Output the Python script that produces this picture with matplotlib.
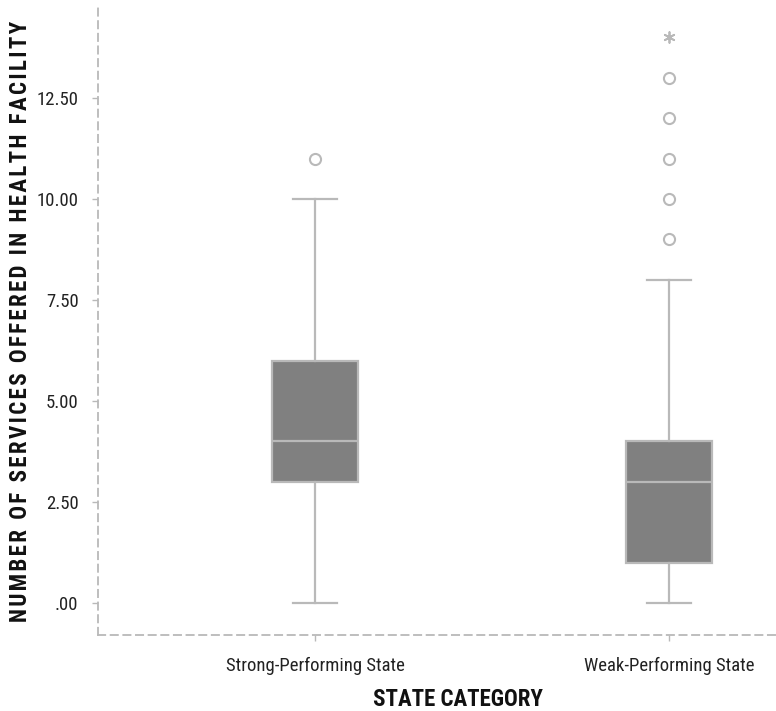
import matplotlib.pyplot as plt

# box summary values
categories = ['Strong-Performing State', 'Weak-Performing State']
whislo = [0, 0]
q1 = [3, 1]
med = [4, 3]
q3 = [6, 4]
whishi = [10, 8]
outliers = [[11], [9, 10, 11, 12, 13]]
extremes = [[], [14]]

yticks = [0, 2.5, 5, 7.5, 10, 12.5]
ytick_labels = ['.00', '2.50', '5.00', '7.50', '10.00', '12.50']

narrow = ['Roboto Condensed', 'Archivo Narrow', 'PT Sans Narrow', 'DejaVu Sans']

edge = '#b9b9b9'
fill = '#808080'


def spaced(s, gap='\u200a'):
    return gap.join(s).replace(gap + ' ' + gap, '\u2002')


stats = []
for i, c in enumerate(categories):
    stats.append(dict(label=c, whislo=whislo[i], q1=q1[i], med=med[i],
                      q3=q3[i], whishi=whishi[i], fliers=outliers[i]))

fig = plt.figure(figsize=(7.76, 7.11), dpi=100)
ax = fig.add_axes([0.1263, 0.1069, 0.8737, 0.886])

pos = list(range(len(categories)))
ax.bxp(stats, positions=pos, widths=0.245, patch_artist=True,
       boxprops=dict(facecolor=fill, edgecolor=edge, linewidth=1.6),
       medianprops=dict(color=edge, linewidth=1.6),
       whiskerprops=dict(color=edge, linewidth=1.6),
       capprops=dict(color=edge, linewidth=1.6),
       capwidths=0.125,
       flierprops=dict(marker='o', markerfacecolor='none',
                       markeredgecolor=edge, markersize=8, markeredgewidth=1.5))

for i, ex in enumerate(extremes):
    if ex:
        ax.scatter([pos[i]] * len(ex), ex, marker=(6, 2, 0), s=60,
                   color=edge, linewidths=1.3, zorder=3)

ax.set_xlim(-0.613, 1.302)
ax.set_ylim(-0.79, 14.8)

ax.set_yticks(yticks)
ax.set_yticklabels(ytick_labels, family=narrow, fontsize=13.5, color='#222222')
ax.set_xticks(pos)
ax.set_xticklabels(categories, family=narrow, fontsize=13.5, color='#222222')
ax.tick_params(axis='both', color=edge, length=4, width=1)
ax.tick_params(axis='y', pad=10)
ax.tick_params(axis='x', pad=12)

for s in ['top', 'right']:
    ax.spines[s].set_visible(False)
for s in ['left', 'bottom']:
    ax.spines[s].set_linestyle((0, (4, 3)))
    ax.spines[s].set_color(edge)
    ax.spines[s].set_linewidth(1.3)

ax.set_xlabel('STATE CATEGORY', family=narrow, fontweight='bold',
              fontsize=16.5, color='#111111')
ax.set_ylabel(spaced('NUMBER OF SERVICES OFFERED IN HEALTH FACILITY'),
              family=narrow, fontweight='bold', fontsize=16.5, color='#111111')
ax.xaxis.set_label_coords(0.531, -0.084)
ax.yaxis.set_label_coords(-0.098, 0.497)

plt.savefig('out.png', dpi=100)
plt.close()
